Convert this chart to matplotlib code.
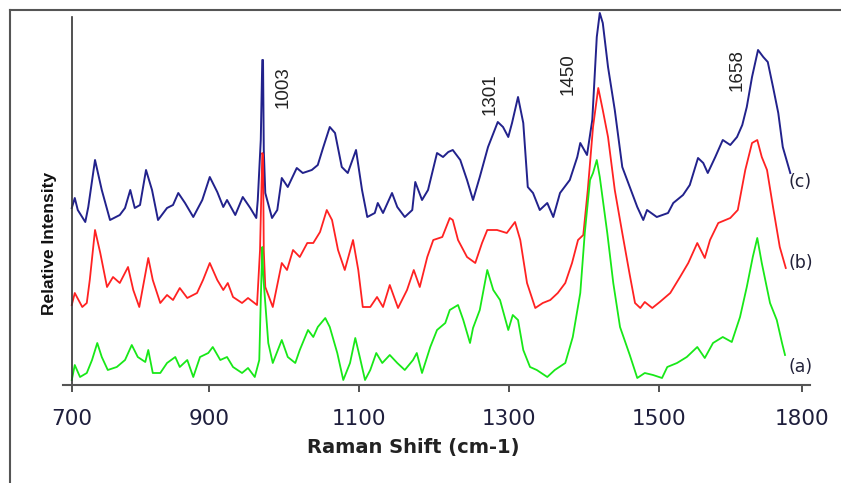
import numpy as np
import matplotlib
matplotlib.use("Agg")
import matplotlib.pyplot as plt
from matplotlib.lines import Line2D

# Spectra (shift in cm-1, relative intensity in arbitrary units)
shift_c = [717, 721, 725, 735, 739, 748, 757, 768, 781, 788, 795, 801, 808, 816, 824, 832,
           844, 852, 859, 868, 879, 891, 901, 911, 919, 924, 935, 945, 955, 963, 965, 969,
           971, 972, 973, 975, 984, 991, 997, 1005, 1017, 1025, 1037, 1045, 1052, 1061, 1068,
           1077, 1085, 1096, 1104, 1111, 1121, 1125, 1132, 1144, 1151, 1161, 1171, 1175, 1184,
           1192, 1204, 1212, 1219, 1225, 1235, 1244, 1252, 1261, 1272, 1285, 1292, 1299, 1304,
           1312, 1319, 1325, 1332, 1341, 1351, 1359, 1368, 1381, 1391, 1395, 1404, 1411, 1417,
           1421, 1425, 1432, 1441, 1451, 1461, 1471, 1479, 1484, 1497, 1512, 1519, 1532, 1541,
           1552, 1559, 1565, 1575, 1585, 1595, 1604, 1611, 1617, 1624, 1632, 1639, 1645, 1652,
           1659, 1665, 1675]
int_c = [177, 187, 175, 163, 178, 225, 195, 165, 170, 177, 195, 177, 180, 215, 195, 165,
         177, 180, 192, 182, 168, 185, 208, 193, 178, 185, 170, 188, 177, 167, 185, 245,
         325, 325, 235, 192, 167, 175, 207, 198, 217, 212, 215, 220, 237, 258, 252,
         218, 212, 235, 195, 168, 172, 182, 172, 192, 178, 168, 175, 203, 185,
         195, 232, 228, 233, 235, 225, 205, 185, 208, 238, 263, 258, 248, 262,
         288, 262, 198, 192, 175, 182, 168, 192, 205, 228, 242, 230, 265, 348,
         372, 362, 318, 275, 218, 198, 178, 165, 175, 168, 172, 182, 190, 200,
         227, 222, 212, 228, 245, 240, 248, 260, 278, 308, 335, 328, 323, 298,
         272, 238, 212]

shift_b = [717, 721, 731, 737, 741, 748, 755, 764, 772, 781, 792, 799, 807, 819, 825, 835,
           844, 852, 861, 871, 884, 892, 901, 911, 919, 925, 932, 944, 952, 964, 968, 971,
           972, 973, 975, 985, 997, 1004, 1012, 1021, 1031, 1039, 1048, 1057, 1064, 1072,
           1081, 1092, 1099, 1105, 1115, 1124, 1132, 1141, 1152, 1164, 1173, 1181, 1191,
           1199, 1211, 1221, 1225, 1232, 1244, 1255, 1264, 1271, 1284, 1297, 1308, 1315,
           1324, 1335, 1345, 1355, 1365, 1375, 1384, 1392, 1399, 1405, 1412, 1419, 1425,
           1432, 1441, 1451, 1461, 1468, 1475, 1481, 1491, 1501, 1515, 1528, 1539, 1551,
           1561, 1568, 1579, 1595, 1605, 1615, 1624, 1631, 1637, 1644, 1652, 1661, 1669]
int_b = [80, 92, 78, 82, 105, 155, 132, 98, 108, 102, 118, 95, 78, 127, 105, 82,
         90, 85, 97, 87, 92, 105, 122, 105, 95, 102, 88, 82, 87, 80, 135, 232,
         230, 135, 98, 78, 122, 115, 135, 128, 142, 142, 153, 175, 165, 135,
         115, 145, 115, 78, 78, 88, 78, 100, 77, 95, 115, 98, 128,
         145, 148, 167, 165, 145, 128, 122, 142, 155, 155, 152, 163, 145,
         102, 77, 82, 85, 92, 102, 122, 145, 150, 195, 258, 297, 275,
         248, 195, 152, 110, 82, 77, 83, 77, 83, 92, 108, 122, 142,
         127, 145, 162, 167, 175, 215, 242, 245, 228, 215, 178, 138, 117]

shift_a = [717, 721, 728, 737, 744, 751, 757, 765, 777, 788, 797, 805, 815, 819, 825, 835,
           844, 855, 861, 871, 879, 888, 899, 905, 915, 924, 932, 944, 952, 961, 967, 969,
           971, 972, 973, 979, 985, 997, 1005, 1015, 1021, 1032, 1039, 1045, 1055, 1061,
           1071, 1079, 1088, 1095, 1101, 1108, 1115, 1123, 1131, 1141, 1151, 1161, 1172,
           1177, 1184, 1195, 1204, 1215, 1221, 1232, 1239, 1248, 1252, 1261, 1271, 1279,
           1288, 1299, 1305, 1312, 1319, 1328, 1337, 1351, 1361, 1375, 1385, 1395, 1401,
           1408, 1412, 1417, 1421, 1431, 1439, 1448, 1461, 1471, 1481, 1492, 1504, 1511,
           1524, 1537, 1551, 1561, 1572, 1585, 1597, 1608, 1617, 1625, 1631, 1637, 1648,
           1657, 1664, 1668]
int_a = [5, 20, 8, 12, 25, 42, 28, 15, 18, 25, 40, 28, 23, 35, 12, 12,
         22, 28, 18, 25, 8, 28, 32, 38, 25, 28, 18, 12, 17, 8, 25, 85,
         138, 115, 102, 42, 22, 45, 28, 22, 35, 55, 48, 58, 67, 58,
         32, 5, 22, 47, 28, 5, 15, 32, 22, 30, 22, 15, 25,
         32, 12, 38, 55, 62, 75, 80, 65, 42, 57, 75, 115, 95,
         85, 55, 70, 65, 35, 18, 15, 8, 15, 22, 48, 92, 152,
         205, 212, 225, 208, 152, 102, 58, 30, 7, 12, 10, 7, 18,
         22, 28, 38, 27, 42, 48, 43, 68, 98, 128, 147, 122, 82,
         65, 42, 30]

tick_pos = [717, 900, 1100, 1300, 1500, 1691]
tick_labels = ['700', '900', '1100', '1300', '1500', '1800']

peak_labels = ['1003', '1301', '1450', '1658']
peak_pos = [999, 1275, 1379, 1604]
peak_height = [298, 291, 311, 315]

curve_labels = ['(c)', '(b)', '(a)']
curve_label_y = [203, 122, 18]

W, H = 841, 483
fig = plt.figure(figsize=(W / 100, H / 100), dpi=100)
ax = fig.add_axes([63 / W, 1 - 385 / H, 747 / W, 373 / H])

ax.plot(shift_c, int_c, color='#22228c', lw=1.4, clip_on=False)
ax.plot(shift_b, int_b, color='#ff2222', lw=1.3, clip_on=False)
ax.plot(shift_a, int_a, color='#18e818', lw=1.3, clip_on=False)

ax.set_xlim(705.3, 1701.3)
ax.set_ylim(0, 373)

for s in ['top', 'right']:
    ax.spines[s].set_visible(False)
ax.spines['left'].set_position(('data', 717))
ax.spines['left'].set_bounds(0, 368)
ax.spines['left'].set_color('#333333')
ax.spines['left'].set_linewidth(1.2)
ax.spines['bottom'].set_color('#555555')
ax.spines['bottom'].set_linewidth(1.5)

ax.set_yticks([])
ax.set_xticks(tick_pos)
ax.set_xticklabels(tick_labels, fontsize=15.5, color='#1e1e3c', family='DejaVu Sans')
ax.tick_params(axis='x', direction='out', length=5, width=1.3, color='#444444', pad=12)

for lab, x, y in zip(peak_labels, peak_pos, peak_height):
    ax.text(x, y, lab, rotation=90, ha='center', va='center', fontsize=13.5,
            family='Liberation Sans', color='#222222')

for lab, y in zip(curve_labels, curve_label_y):
    ax.text(1672, y, lab, ha='left', va='center', fontsize=12.5,
            family='DejaVu Sans', color='#22223a')

fig.text(413 / W, 1 - 448 / H, 'Raman Shift (cm-1)', ha='center', va='center',
         fontsize=14, fontweight='bold', family='DejaVu Sans', color='#222222')
fig.text(50 / W, 1 - 243 / H, 'Relative Intensity', rotation=90, ha='center', va='center',
         fontsize=12.5, fontweight='bold', family='Liberation Sans', color='#111111')

# outer frame (left and top only)
fig.add_artist(Line2D([10 / W, 10 / W], [0, 1 - 10 / H], transform=fig.transFigure,
                      color='#555555', lw=1.5))
fig.add_artist(Line2D([10 / W, 1], [1 - 10 / H, 1 - 10 / H], transform=fig.transFigure,
                      color='#555555', lw=1.5))

fig.savefig('out.png', dpi=100)
